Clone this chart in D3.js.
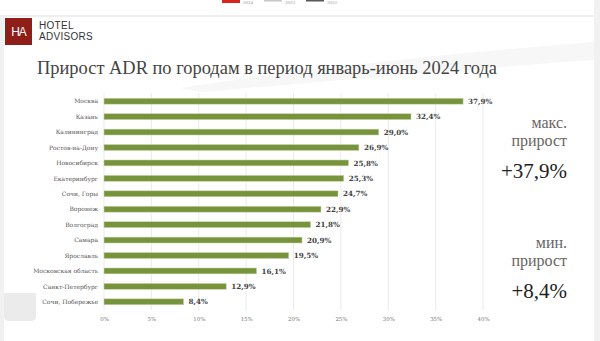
<!DOCTYPE html>
<html>
<head>
<meta charset="utf-8">
<script src="https://cdn.jsdelivr.net/npm/d3@7"></script>
<style>
  html, body { margin: 0; padding: 0; background: #fff; }
  svg { display: block; }
</style>
</head>
<body>
<svg id="chart" width="600" height="341"></svg>
<script>
// ADR growth by city, January–June 2024 (%)
const cities = [
  "Москва", "Казань", "Калининград", "Ростов-на-Дону", "Новосибирск",
  "Екатеринбург", "Сочи, Горы", "Воронеж", "Волгоград", "Самара",
  "Ярославль", "Московская область", "Санкт-Петербург", "Сочи, Побережье"
];
const growth = [37.9, 32.4, 29.0, 26.9, 25.8, 25.3, 24.7, 22.9, 21.8, 20.9, 19.5, 16.1, 12.9, 8.4];
const tickValues = [0, 5, 10, 15, 20, 25, 30, 35, 40];
const legendYears = ["2024", "2023", "2022"];

const svg = d3.select("#chart");
const serif = "Georgia, 'Liberation Serif', 'DejaVu Serif', serif";
const wideSerif = "'DejaVu Serif', Georgia, serif";
const sans = "'Liberation Sans', Arial, sans-serif";
const fmt = v => d3.format(".1f")(v).replace(".", ",") + "%";

// slide frame
svg.append("rect").attr("x", 0).attr("y", 0).attr("width", 600).attr("height", 341).attr("fill", "#fff");
svg.append("rect").attr("x", 0).attr("y", 15).attr("width", 600).attr("height", 2).attr("fill", "#efefef");
svg.append("rect").attr("x", 0).attr("y", 17).attr("width", 4).attr("height", 324).attr("fill", "#f1f1f1");
svg.append("rect").attr("x", 594).attr("y", 0).attr("width", 6).attr("height", 341).attr("fill", "#f1f1f1");
svg.append("path")
  .attr("d", "M4,293 H36 V316 Q36,321 31,321 H9 Q4,321 4,316 Z")
  .attr("fill", "#ebebeb");

// faint brush stroke behind the title
svg.append("path")
  .attr("d", "M180,88 C300,70 430,55 594,42 L594,60 C450,70 320,82 200,92 Z")
  .attr("fill", "#f7f7f7");

// legend fragment of the previous slide
const legColors = ["#d9231c", "#c8c8c8", "#595959"];
legendYears.forEach((y, i) => {
  const x0 = 222 + i * 42;
  svg.append("rect").attr("x", x0).attr("y", 0).attr("width", 18).attr("height", i === 0 ? 3 : 1.5).attr("fill", legColors[i]);
  svg.append("text").attr("x", x0 + 21).attr("y", 3.5).attr("font-size", 5).attr("fill", "#999")
    .attr("font-family", serif).text(y);
});

// logo
svg.append("rect").attr("x", 5).attr("y", 18).attr("width", 27).attr("height", 27).attr("fill", "#8f1d18");
svg.append("text").attr("x", 18.5).attr("y", 36).attr("text-anchor", "middle")
  .attr("font-family", sans).attr("font-size", 12).attr("fill", "#fff")
  .attr("letter-spacing", -1).text("HA");
svg.append("text").attr("x", 39).attr("y", 28.5).attr("font-family", sans)
  .attr("font-size", 10).attr("fill", "#333").attr("letter-spacing", 0.3).text("HOTEL");
svg.append("text").attr("x", 39).attr("y", 40).attr("font-family", sans)
  .attr("font-size", 10).attr("fill", "#333").attr("letter-spacing", 0.3).text("ADVISORS");

// title
svg.append("text").attr("x", 37).attr("y", 74)
  .attr("font-family", serif).attr("font-size", 19).attr("fill", "#444")
  .attr("textLength", 460).attr("lengthAdjust", "spacingAndGlyphs")
  .text("Прирост ADR по городам в период январь-июнь 2024 года");

// chart
const x = d3.scaleLinear().domain([0, 40]).range([104, 483]);
const y = d3.scaleBand().domain(cities).range([93.5, 309.5]).paddingInner(0.62).paddingOuter(0.31);

const g = svg.append("g");

g.append("g").selectAll("line").data(tickValues).join("line")
  .attr("x1", d => x(d)).attr("x2", d => x(d))
  .attr("y1", 93).attr("y2", 310)
  .attr("stroke", "#e6e6e6").attr("stroke-width", 0.8);

g.append("g").selectAll("rect").data(cities).join("rect")
  .attr("x", x(0))
  .attr("y", d => y(d))
  .attr("width", (d, i) => x(growth[i]) - x(0))
  .attr("height", y.bandwidth())
  .attr("fill", "#77933c")
  .attr("stroke", "#c6d5a6").attr("stroke-width", 0.5);

g.append("g").selectAll("text").data(cities).join("text")
  .attr("x", 98).attr("y", d => y(d) + y.bandwidth() / 2 + 2.2)
  .attr("text-anchor", "end")
  .attr("font-family", wideSerif).attr("font-size", 6).attr("fill", "#555")
  .text(d => d);

g.append("g").selectAll("text").data(cities).join("text")
  .attr("x", (d, i) => x(growth[i]) + 5)
  .attr("y", d => y(d) + y.bandwidth() / 2 + 2.6)
  .attr("font-family", wideSerif).attr("font-size", 7.2).attr("font-weight", "bold").attr("fill", "#444")
  .text((d, i) => fmt(growth[i]));

const axis = d3.axisBottom(x).tickValues(tickValues).tickSize(0).tickFormat(d => d + "%");
const ax = g.append("g").attr("transform", "translate(0,314)").call(axis);
ax.select(".domain").remove();
ax.selectAll("text").attr("font-family", wideSerif).attr("font-size", 5.4).attr("fill", "#777");

// side callouts: max and min growth
const maxV = d3.max(growth), minV = d3.min(growth);
function callout(lines, value, yTop) {
  lines.forEach((t, i) => {
    svg.append("text").attr("x", 567).attr("y", yTop + i * 18).attr("text-anchor", "end")
      .attr("font-family", serif).attr("font-size", 16).attr("fill", "#666").text(t);
  });
  svg.append("text").attr("x", 567).attr("y", yTop + 50).attr("text-anchor", "end")
    .attr("font-family", "'Liberation Serif', 'Times New Roman', serif").attr("font-size", 21).attr("fill", "#222")
    .text("+" + fmt(value));
}
callout(["макс.", "прирост"], maxV, 128);
callout(["мин.", "прирост"], minV, 248);
</script>
</body>
</html>
